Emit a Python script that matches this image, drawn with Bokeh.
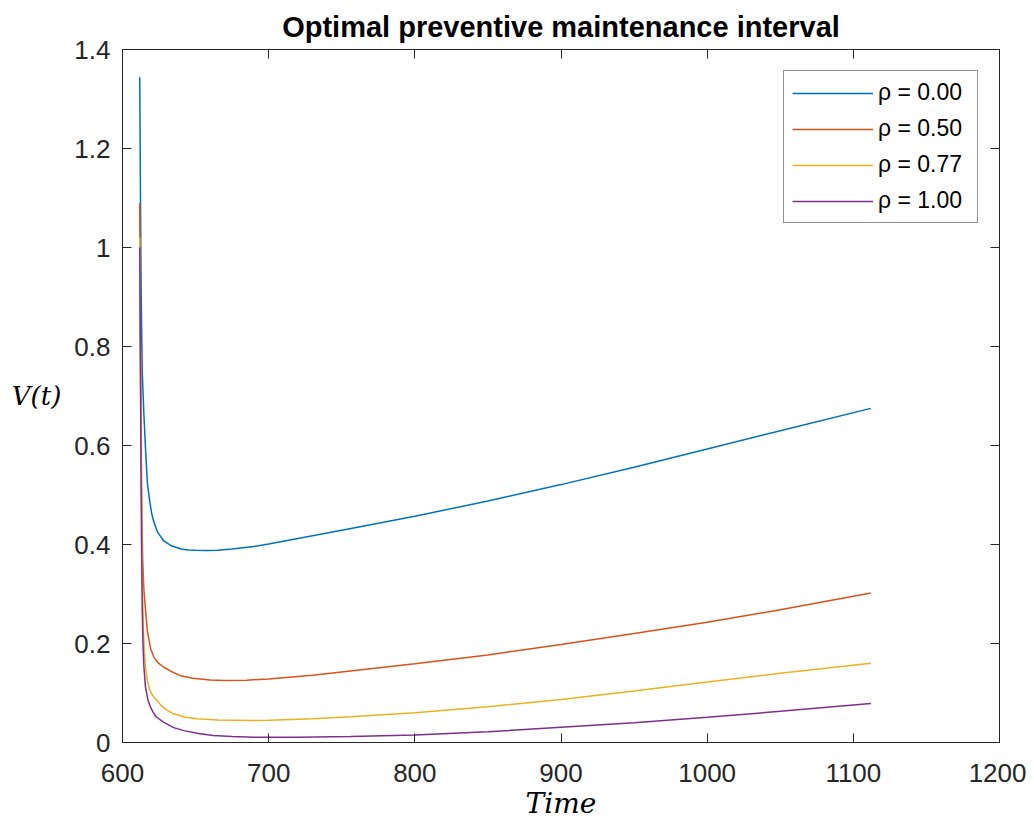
from bokeh.plotting import figure
from bokeh.models import LinearAxis, FixedTicker, Range1d, Legend, LegendItem, CustomJSTickFormatter
from bokeh.embed import file_html
from bokeh.resources import INLINE

# ---- data ----
t_blue = [611.8, 612.3, 612.8, 613.5, 614.6, 615.7, 617.0, 618.5, 620.0, 621.5, 624.0, 628.0, 633.0,
          640.0, 645.0, 650.0, 657.0, 665.0, 675.0, 690.0, 700.0, 720.0, 750.0, 800.0, 850.0, 900.0,
          950.0, 1000.0, 1050.0, 1112.0]
v_blue = [1.344, 1.10, 0.90, 0.75, 0.665, 0.597, 0.525, 0.49, 0.462, 0.445, 0.425, 0.408, 0.398,
          0.391, 0.389, 0.3882, 0.388, 0.3885, 0.391, 0.396, 0.401, 0.412, 0.429, 0.457, 0.488, 0.521,
          0.556, 0.593, 0.630, 0.675]

t_red = [611.8, 612.2, 612.7, 613.2, 613.8, 614.6, 615.7, 617.0, 619.2, 621.5, 624.0, 628.3, 633.0,
         639.7, 648.0, 660.0, 670.0, 685.0, 700.0, 730.0, 756.0, 800.0, 850.0, 900.0, 950.0, 1000.0,
         1050.0, 1112.0]
v_red = [1.09, 0.85, 0.62, 0.47, 0.37, 0.31, 0.27, 0.225, 0.19, 0.172, 0.162, 0.152, 0.144,
         0.135, 0.13, 0.1265, 0.1255, 0.126, 0.1285, 0.136, 0.1445, 0.159, 0.177, 0.198, 0.22, 0.243,
         0.268, 0.302]

t_yel = [611.8, 612.2, 612.7, 613.2, 613.7, 614.3, 615.0, 616.0, 617.0, 618.5, 620.0, 622.0, 623.7,
         626.0, 630.0, 635.0, 643.0, 651.0, 665.0, 688.0, 700.0, 730.0, 756.0, 800.0, 850.0, 900.0,
         950.0, 1000.0, 1050.0, 1112.0]
v_yel = [1.02, 0.78, 0.56, 0.42, 0.31, 0.23, 0.18, 0.145, 0.125, 0.108, 0.098, 0.09, 0.085,
         0.076, 0.066, 0.058, 0.051, 0.048, 0.0455, 0.0444, 0.0448, 0.048, 0.052, 0.060, 0.072, 0.087,
         0.104, 0.122, 0.140, 0.160]

t_pur = [611.8, 612.3, 612.7, 613.0, 613.5, 614.0, 614.6, 615.7, 617.5, 619.2, 621.0, 623.0, 628.0,
         635.0, 642.0, 652.0, 662.0, 675.0, 690.0, 720.0, 756.0, 800.0, 850.0, 900.0, 950.0, 1000.0,
         1050.0, 1112.0]
v_pur = [1.0, 0.75, 0.55, 0.41, 0.27, 0.2, 0.155, 0.112, 0.085, 0.071, 0.061, 0.052, 0.041,
         0.030, 0.024, 0.018, 0.014, 0.012, 0.0105, 0.0105, 0.012, 0.015, 0.0215, 0.031, 0.040, 0.051,
         0.063, 0.079]

series_labels = ["\u03c1 = 0.00", "\u03c1 = 0.50", "\u03c1 = 0.77", "\u03c1 = 1.00"]
series_colors = ["#0072BD", "#D95319", "#EDB120", "#7E2F8E"]

x_ticks = [600, 700, 800, 900, 1000, 1100, 1200]
y_ticks = [0, 0.2, 0.4, 0.6, 0.8, 1, 1.2, 1.4]
y_tick_labels = ["0", "0.2", "0.4", "0.6", "0.8", "1", "1.2", "1.4"]

title_text = "Optimal preventive maintenance interval"
x_label = "Time"
y_label = "V(t)"

# ---- figure ----
AX = "#262626"
p = figure(width=1026, height=822, output_backend="svg", toolbar_location=None,
           x_range=Range1d(600, 1200), y_range=Range1d(0, 1.4),
           x_axis_location=None, y_axis_location=None,
           min_border_left=122, min_border_right=27, min_border_top=49, min_border_bottom=80)
p.background_fill_color = "white"
p.border_fill_color = "white"
p.outline_line_color = AX
p.outline_line_width = 1
p.xgrid.visible = False
p.ygrid.visible = False

p.title.text = title_text
p.title.align = "center"
p.title.text_font = "Liberation Sans"
p.title.text_font_size = "29px"
p.title.text_font_style = "bold"
p.title.text_color = "black"
p.title.standoff = 13


def style_axis(ax, show_labels):
    ax.axis_line_color = AX
    ax.major_tick_line_color = AX
    ax.major_tick_in = 9
    ax.major_tick_out = 0
    ax.minor_tick_line_color = None
    ax.major_label_text_font = "Liberation Sans"
    ax.major_label_text_color = AX
    ax.major_label_text_font_size = "26px"
    ax.major_label_standoff = 12
    if not show_labels:
        ax.formatter = CustomJSTickFormatter(code="return '';")
        ax.major_label_standoff = 0


xb = LinearAxis(ticker=FixedTicker(ticks=x_ticks))
style_axis(xb, True)
xb.major_label_standoff = 21
xb.axis_label = x_label
xb.axis_label_text_font = "DejaVu Serif"
xb.axis_label_text_font_style = "italic"
xb.axis_label_text_font_size = "28px"
xb.axis_label_text_color = "black"
xb.axis_label_standoff = 2
p.add_layout(xb, "below")
xt = LinearAxis(ticker=FixedTicker(ticks=x_ticks))
style_axis(xt, False)
p.add_layout(xt, "above")

yl = LinearAxis(ticker=FixedTicker(ticks=y_ticks))
style_axis(yl, True)
yl.major_label_overrides = {t: s for t, s in zip(y_ticks, y_tick_labels)}
yl.axis_label = y_label
yl.axis_label_text_font = "DejaVu Serif"
yl.axis_label_text_font_style = "italic"
yl.axis_label_text_font_size = "26px"
yl.axis_label_text_color = "black"
yl.axis_label_standoff = 10
if "axis_label_orientation" in yl.properties():
    yl.axis_label_orientation = "horizontal"
p.add_layout(yl, "left")
yr = LinearAxis(ticker=FixedTicker(ticks=y_ticks))
style_axis(yr, False)
p.add_layout(yr, "right")

# ---- lines ----
data = [(t_blue, v_blue), (t_red, v_red), (t_yel, v_yel), (t_pur, v_pur)]
items = []
for (tx, vy), lab, col in zip(data, series_labels, series_colors):
    r = p.line(tx, vy, line_color=col, line_width=1.5)
    items.append(LegendItem(label=lab, renderers=[r]))

legend = Legend(items=items, location="top_right", margin=21,
                glyph_width=81, glyph_height=24, label_height=24, label_width=91,
                spacing=9, padding=8, label_standoff=5,
                label_text_font="Liberation Sans", label_text_font_size="23px",
                label_text_color="black",
                border_line_color=AX, border_line_width=1,
                background_fill_color="white", background_fill_alpha=1.0)
p.add_layout(legend, "center")

open("out.html", "w").write(file_html(p, INLINE))
